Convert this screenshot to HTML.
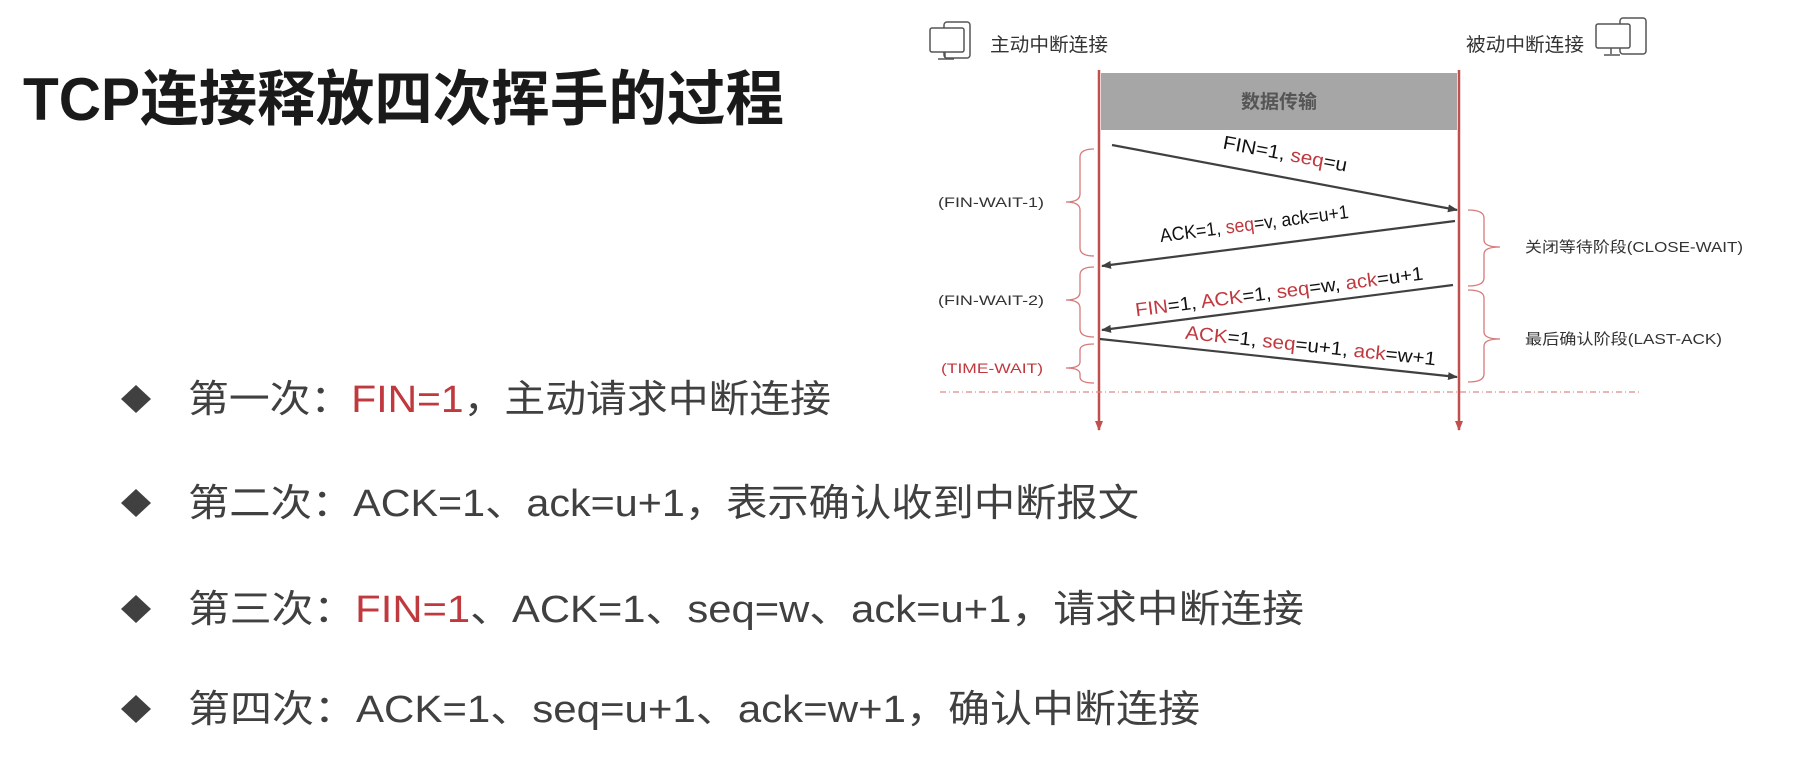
<!DOCTYPE html>
<html><head><meta charset="utf-8"><style>
html,body{margin:0;padding:0;background:#fff;}
svg{display:block;}
text{font-family:"Liberation Sans","Noto Sans CJK SC",sans-serif;}
</style></head><body>
<svg width="1813" height="783" viewBox="0 0 1813 783" xmlns="http://www.w3.org/2000/svg">
<defs>
<marker id="ah" markerWidth="10" markerHeight="8" refX="9" refY="4" orient="auto" markerUnits="userSpaceOnUse">
<path d="M0,0 L10,4 L0,8 Z" fill="#404040"/></marker>
<marker id="rh" markerWidth="10" markerHeight="8" refX="9" refY="4" orient="auto" markerUnits="userSpaceOnUse">
<path d="M0,0 L10,4 L0,8 Z" fill="#c0504d"/></marker>
</defs>
<!-- Title -->
<text x="23" y="120" font-size="60" font-weight="bold" fill="#1a1a1a" textLength="761" lengthAdjust="spacingAndGlyphs">TCP连接释放四次挥手的过程</text>

<!-- Bullets -->
<g fill="#404040">
<path d="M136,385 L151,399 L136,413 L121,399 Z"/>
<path d="M136,489 L151,503 L136,517 L121,503 Z"/>
<path d="M136,595 L151,609 L136,623 L121,609 Z"/>
<path d="M136,695 L151,709 L136,723 L121,709 Z"/>
</g>
<g font-size="38" fill="#404040">
<text x="188" y="412" textLength="643" lengthAdjust="spacingAndGlyphs">第一次：<tspan fill="#c0393f">FIN=1</tspan>，主动请求中断连接</text>
<text x="188" y="516" textLength="951" lengthAdjust="spacingAndGlyphs">第二次：ACK=1、ack=u+1，表示确认收到中断报文</text>
<text x="188" y="622" textLength="1116" lengthAdjust="spacingAndGlyphs">第三次：<tspan fill="#c0393f">FIN=1</tspan>、ACK=1、seq=w、ack=u+1，请求中断连接</text>
<text x="188" y="722" textLength="1012" lengthAdjust="spacingAndGlyphs">第四次：ACK=1、seq=u+1、ack=w+1，确认中断连接</text>
</g>

<!-- Icons -->
<g fill="none" stroke="#555" stroke-width="1.5">
<rect x="944" y="22" width="26" height="36" rx="3"/>
<rect x="930" y="28" width="34" height="24" rx="2" fill="#fff"/>
<path d="M945,52 v6 M938,59 h16"/>
<rect x="1620" y="18" width="26" height="36" rx="3"/>
<rect x="1596" y="24" width="34" height="24" rx="2" fill="#fff"/>
<path d="M1611,48 v6 M1604,55 h16"/>
</g>
<text x="990" y="51" font-size="19" fill="#333" textLength="118" lengthAdjust="spacingAndGlyphs">主动中断连接</text>
<text x="1466" y="51" font-size="19" fill="#333" textLength="118" lengthAdjust="spacingAndGlyphs">被动中断连接</text>

<!-- Gray box -->
<rect x="1101" y="73" width="356" height="57" fill="#a6a6a6"/>
<text x="1279" y="108" font-size="19" font-weight="bold" fill="#555" text-anchor="middle">数据传输</text>

<!-- Lifelines -->
<line x1="1099" y1="70" x2="1099" y2="430" stroke="#c0504d" stroke-width="2.5" marker-end="url(#rh)"/>
<line x1="1459" y1="70" x2="1459" y2="430" stroke="#c0504d" stroke-width="2.5" marker-end="url(#rh)"/>

<!-- Dotted line -->
<line x1="940" y1="392" x2="1641" y2="392" stroke="#d98a8a" stroke-width="1.2" stroke-dasharray="6,3,1,3"/>

<!-- Arrows -->
<g stroke="#404040" stroke-width="2.2">
<line x1="1112" y1="145" x2="1457" y2="210" marker-end="url(#ah)"/>
<line x1="1455" y1="221" x2="1102" y2="266" marker-end="url(#ah)"/>
<line x1="1453" y1="285" x2="1102" y2="330" marker-end="url(#ah)"/>
<line x1="1100" y1="339" x2="1457" y2="377" marker-end="url(#ah)"/>
</g>

<!-- Arrow labels -->
<g font-size="19" fill="#111">
<text transform="translate(1284,160) rotate(10.6)" text-anchor="middle" textLength="126" lengthAdjust="spacingAndGlyphs">FIN=1, <tspan fill="#c0393f">seq</tspan>=u</text>
<text transform="translate(1255,230) rotate(-7.3)" text-anchor="middle" textLength="190" lengthAdjust="spacingAndGlyphs">ACK=1, <tspan fill="#c0393f">seq</tspan>=v, ack=u+1</text>
<text transform="translate(1280,298) rotate(-7.3)" text-anchor="middle" textLength="290" lengthAdjust="spacingAndGlyphs"><tspan fill="#c0393f">FIN</tspan>=1, <tspan fill="#c0393f">ACK</tspan>=1, <tspan fill="#c0393f">seq</tspan>=w, <tspan fill="#c0393f">ack</tspan>=u+1</text>
<text transform="translate(1310,352) rotate(6.1)" text-anchor="middle" textLength="252" lengthAdjust="spacingAndGlyphs"><tspan fill="#c0393f">ACK</tspan>=1, <tspan fill="#c0393f">seq</tspan>=u+1, <tspan fill="#c0393f">ack</tspan>=w+1</text>
</g>

<!-- Left braces -->
<g fill="none" stroke="#d77a7a" stroke-width="1.3">
<path d="M1094,149 Q1080,149 1080,157 L1080,194 Q1080,202 1066,202 Q1080,202 1080,210 L1080,248 Q1080,256 1094,256"/>
<path d="M1094,267 Q1080,267 1080,275 L1080,292 Q1080,300 1066,300 Q1080,300 1080,308 L1080,329 Q1080,337 1094,337"/>
<path d="M1094,344 Q1080,344 1080,350 L1080,362 Q1080,368 1066,368 Q1080,368 1080,374 L1080,377 Q1080,383 1094,383"/>
</g>
<g font-size="14" fill="#333">
<text x="938" y="207" textLength="106" lengthAdjust="spacingAndGlyphs">(FIN-WAIT-1)</text>
<text x="938" y="305" textLength="106" lengthAdjust="spacingAndGlyphs">(FIN-WAIT-2)</text>
<text x="941" y="373" fill="#c0393f" textLength="102" lengthAdjust="spacingAndGlyphs">(TIME-WAIT)</text>
</g>

<!-- Right braces -->
<g fill="none" stroke="#d77a7a" stroke-width="1.3">
<path d="M1468,210 Q1484,210 1484,218 L1484,240 Q1484,247 1500,247 Q1484,247 1484,254 L1484,278 Q1484,286 1468,286"/>
<path d="M1468,290 Q1484,290 1484,298 L1484,332 Q1484,339 1500,339 Q1484,339 1484,346 L1484,374 Q1484,382 1468,382"/>
</g>
<g font-size="15" fill="#333">
<text x="1525" y="252" textLength="218" lengthAdjust="spacingAndGlyphs">关闭等待阶段(CLOSE-WAIT)</text>
<text x="1525" y="344" textLength="197" lengthAdjust="spacingAndGlyphs">最后确认阶段(LAST-ACK)</text>
</g>
</svg>
</body></html>
